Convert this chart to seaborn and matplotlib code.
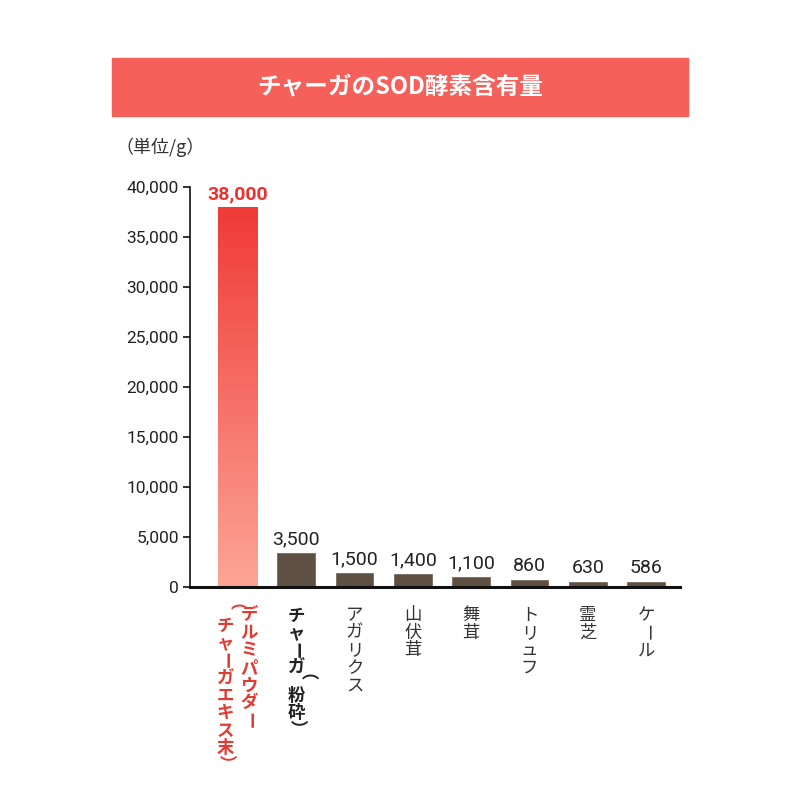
import matplotlib
matplotlib.use("Agg")
import matplotlib.pyplot as plt
import seaborn as sns
import numpy as np
import pandas as pd
from matplotlib.patches import Rectangle
from matplotlib.colors import LinearSegmentedColormap

sns.set_theme(style="white")
plt.rcParams['font.family'] = ['Noto Sans CJK JP', 'DejaVu Sans']

categories = ["デルミパウダー", "チャーガ", "アガリクス", "山伏茸", "舞茸", "トリュフ", "霊芝", "ケール"]
values = [38000, 3500, 1500, 1400, 1100, 860, 630, 586]
value_labels = ["38,000", "3,500", "1,500", "1,400", "1,100", "860", "630", "586"]
yticks = [0, 5000, 10000, 15000, 20000, 25000, 30000, 35000, 40000]
ytick_labels = ["0", "5,000", "10,000", "15,000", "20,000", "25,000", "30,000", "35,000", "40,000"]
title = "チャーガのSOD酵素含有量"
unit = "（単位/g）"
sub_label0 = "（チャーガエキス末）"
sub_label1 = "（粉砕）"

df = pd.DataFrame({"cat": categories, "val": values})
fig = plt.figure(figsize=(8, 8), dpi=100)
ax = fig.add_axes([0.2375, 0.266, 0.6125, 0.5])
brown = "#5e5143"
sns.barplot(data=df, x="cat", y="val", color=brown, width=0.68, ax=ax, saturation=1)
ax.set_xlim(-0.82, 7.58)
ax.set_ylim(0, 40000)
ax.set_yticks(yticks)
ax.set_yticklabels(ytick_labels, fontsize=12.5, family=['Roboto', 'DejaVu Sans'], color="#222")
ax.set_xticks([])
ax.set_xlabel(""); ax.set_ylabel("")
for s in ["top", "right"]:
    ax.spines[s].set_visible(False)
ax.spines["left"].set_color("#111"); ax.spines["left"].set_linewidth(1.2)
ax.spines["bottom"].set_color("#111"); ax.spines["bottom"].set_linewidth(2.2)
ax.tick_params(axis="y", left=True, length=5, width=1.2, color="#111", pad=3)

p = ax.patches[0]
x0, w, h = p.get_x(), p.get_width(), p.get_height()
p.set_visible(False)
grad = np.linspace(0, 1, 256).reshape(-1, 1)
cmap = LinearSegmentedColormap.from_list("g", ["#fca596", "#f03a37"])
ax.imshow(grad, cmap=cmap, extent=[x0, x0 + w, 0, h], origin="lower", aspect="auto", zorder=2)
ax.set_xlim(-0.82, 7.58); ax.set_ylim(0, 40000)

for i, (v, lab) in enumerate(zip(values, value_labels)):
    bold = i == 0
    ax.text(i, v + 400, lab, ha="center", va="bottom", fontsize=14,
            fontweight="bold" if bold else "normal",
            color="#e8332f" if bold else "#222", family=['Roboto', 'DejaVu Sans'])

rot_chars = set("ー（）()")
half = set("（）()")
def vtext(i, dx_pt, text, color, weight="normal", start_pt=-14, step=12.6, hstep=7.5):
    y = start_pt
    for k, ch in enumerate(text):
        s = hstep if ch in half else step
        y -= s / 2
        ax.annotate(ch, xy=(i, 0), xycoords="data", xytext=(dx_pt, y),
                    textcoords="offset points", ha="center", va="center", fontsize=12.5,
                    color=color, fontweight=weight, rotation=(-90 if ch in rot_chars else 0),
                    annotation_clip=False)
        y -= s / 2

red = "#e23b33"
vtext(0, 8, categories[0], red, "bold")
vtext(0, -9, sub_label0, red, "bold")
vtext(1, 0, categories[1] + sub_label1, "#222", "bold")
for i in range(2, 8):
    vtext(i, 0, categories[i], "#333")

fig.patches.append(Rectangle((112 / 800, 1 - 116 / 800), 576 / 800, 58 / 800,
                             transform=fig.transFigure, color="#f5605a", zorder=0))
fig.text(0.5, 1 - 87 / 800, title, ha="center", va="center", color="white",
         fontsize=17, fontweight="bold")
fig.text(115 / 800, 1 - 147 / 800, unit, ha="left", va="center", color="#333", fontsize=13)

fig.savefig("out.png", dpi=100, facecolor="white")
